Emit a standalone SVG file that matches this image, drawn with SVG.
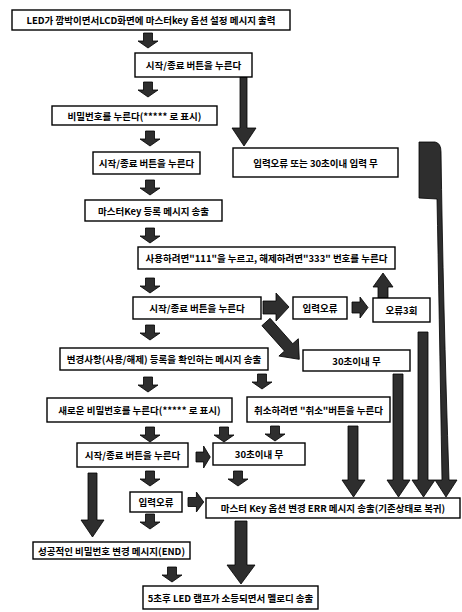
<svg xmlns="http://www.w3.org/2000/svg" width="462" height="612" viewBox="0 0 462 612">
<defs>
<style>
.b{fill:#fff;stroke:#000;stroke-width:1.4}
.t{font-family:"Noto Sans CJK KR","Noto Sans",sans-serif;font-size:9.5px;font-weight:bold;fill:#000;text-anchor:middle;dominant-baseline:central}
.a{fill:#2e2e2e;stroke:#000;stroke-width:0.8}
</style>
<path id="sa" d="M-4.5,0 H4.5 V8 H10 L0,15 L-10,8 H-4.5 Z"/>
</defs>
<rect width="462" height="612" fill="#fff"/>
<g id="connectors" class="a">
<use href="#sa" transform="translate(148,33)"/>
<use href="#sa" transform="translate(148,82)"/>
<use href="#sa" transform="translate(150,131)"/>
<use href="#sa" transform="translate(150,180)"/>
<use href="#sa" transform="translate(150,228)"/>
<use href="#sa" transform="translate(150,278)"/>
<use href="#sa" transform="translate(150,325)"/>
<use href="#sa" transform="translate(148,377)"/>
<use href="#sa" transform="translate(262,374)"/>
<use href="#sa" transform="translate(150,427)"/>
<use href="#sa" transform="translate(224,427)"/>
<use href="#sa" transform="translate(275,426)"/>
<use href="#sa" transform="translate(150,471)"/>
<use href="#sa" transform="translate(238,471)"/>
<use href="#sa" transform="translate(150,514)"/>
<use href="#sa" transform="translate(172,567)"/>
<use href="#sa" transform="translate(196,457) rotate(-90) scale(1.1,0.95)"/>
<use href="#sa" transform="translate(188,502) rotate(-90) scale(1,1.05)"/>
<path d="M240,77 H247 V128 H256 L244,146 L232,128 H240 Z"/>
<path d="M263,301 H276 V293 L289,307 L276,321 V314 H263 Z"/>
<path d="M352,302 H360 V297 L368,307.5 L360,318 V313 H352 Z"/>
<path d="M378,298 V287 H373 L383,273 L393,287 H388 V298 Z"/>
<path transform="translate(266,322) rotate(-41.7)" d="M-5.5,0 H5.5 V34 H13 L0,50 L-13,34 H-5.5 Z"/>
<path d="M348,426 H358 V480 H365 L353.5,497 L342,480 H348 Z"/>
<path d="M393,374 H403 V480 H410 L398.5,497 L387,480 H393 Z"/>
<path d="M418,332 H428 V480 H435 L423.5,497 L412,480 H418 Z"/>
<path d="M419,142 H435 Q441,143 441,152 Q443,300 449,480 H457 L446,497 L435,480 H442 Q439,300 437,199 L419,198 Z"/>
<path d="M88,473 H97 V520 H104 L92.5,537 L81,520 H88 Z"/>
<path d="M235,521 H247 V565 H255 L241,584 L227,565 H235 Z"/>
</g>
<g id="n1"><rect class="b" x="12" y="10" width="278" height="20"/><text class="t" x="151" y="20">LED가 깜박이면서LCD화면에 마스터key 옵션 설정 메시지 출력</text></g>
<g id="n2"><rect class="b" x="135" y="53" width="117" height="24"/><text class="t" x="193.5" y="65">시작/종료 버튼을 누른다</text></g>
<g id="n3"><rect class="b" x="52" y="106" width="165" height="19"/><text class="t" x="134.5" y="115.5">비밀번호를 누른다(***** 로 표시)</text></g>
<g id="n4"><rect class="b" x="233" y="148" width="165" height="29"/><text class="t" x="315.5" y="162.5">입력오류 또는 30초이내 입력 무</text></g>
<g id="n5"><rect class="b" x="93" y="152" width="107" height="22"/><text class="t" x="146.5" y="163">시작/종료 버튼을 누른다</text></g>
<g id="n6"><rect class="b" x="85" y="200" width="137" height="21"/><text class="t" x="153.5" y="210.5">마스터Key 등록 메시지 송출</text></g>
<g id="n7"><rect class="b" x="138" y="247" width="257" height="22"/><text class="t" x="266.5" y="258">사용하려면"111"을 누르고, 해제하려면"333" 번호를 누른다</text></g>
<g id="n8"><rect class="b" x="133" y="297" width="128" height="22"/><text class="t" x="197" y="308">시작/종료 버튼을 누른다</text></g>
<g id="n9"><rect class="b" x="293" y="297" width="54" height="22"/><text class="t" x="320" y="308">입력오류</text></g>
<g id="n10"><rect class="b" x="373" y="298" width="57" height="24"/><text class="t" x="401.5" y="310">오류3회</text></g>
<g id="n11"><rect class="b" x="60" y="348" width="208" height="22"/><text class="t" x="164" y="359">변경사항(사용/해제) 등록을 확인하는 메시지 송출</text></g>
<g id="n12"><rect class="b" x="303" y="350" width="107" height="21"/><text class="t" x="356.5" y="360.5">30초이내 무</text></g>
<g id="n13"><rect class="b" x="47" y="398" width="185" height="24"/><text class="t" x="139.5" y="410">새로운 비밀번호를 누른다(***** 로 표시)</text></g>
<g id="n14"><rect class="b" x="247" y="397" width="143" height="25"/><text class="t" x="318.5" y="409.5">취소하려면 "취소"버튼을 누른다</text></g>
<g id="n15"><rect class="b" x="77" y="443" width="111" height="24"/><text class="t" x="132.5" y="455">시작/종료 버튼을 누른다</text></g>
<g id="n16"><rect class="b" x="213" y="443" width="92" height="22"/><text class="t" x="259" y="454">30초이내 무</text></g>
<g id="n17"><rect class="b" x="130" y="492" width="52" height="20"/><text class="t" x="156" y="502">입력오류</text></g>
<g id="n18"><rect class="b" x="206" y="498" width="254" height="20"/><text class="t" x="333" y="508">마스터 Key 옵션 변경 ERR 메시지 송출(기존상태로 복귀)</text></g>
<g id="n19"><rect class="b" x="33" y="542" width="157" height="17"/><text class="t" x="111.5" y="550.5">성공적인 비밀번호 변경 메시지(END)</text></g>
<g id="n20"><rect class="b" x="143" y="586" width="175" height="23"/><text class="t" x="230.5" y="597.5">5초후 LED 램프가 소등되면서 멜로디 송출</text></g>
</svg>
